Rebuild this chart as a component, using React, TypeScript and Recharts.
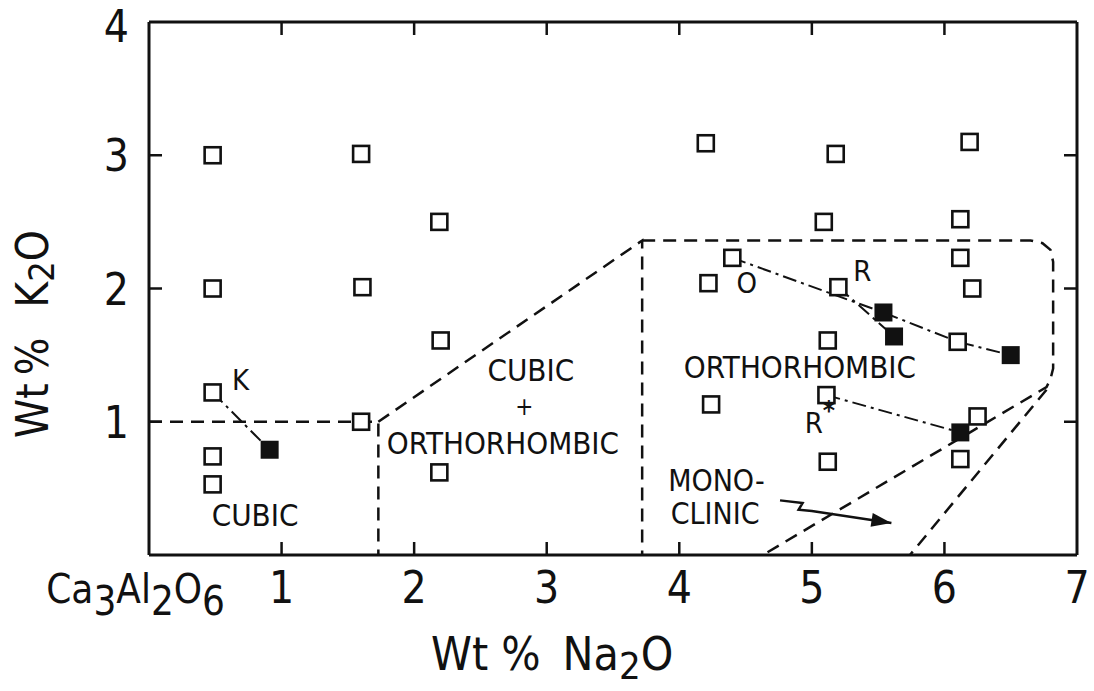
import React from "react";
import { Label, ReferenceLine, Scatter, ScatterChart, XAxis, YAxis } from "recharts";

const W = 1094;
const H = 691;
// plot box: left 149, right 1077, top 22, bottom 555 (axes take 1px each)
const MARGIN = { top: 22, right: 17, left: 148, bottom: 135 };
const PLOT_TOP = 22;
const PLOT_RIGHT = W - 17;
const FONT = '"DejaVu Sans Condensed", "Liberation Sans Narrow", "DejaVu Sans", sans-serif';
const INK = "#111";
const TICK = 13;

const xTicks = [0, 1, 2, 3, 4, 5, 6, 7];
const yTicks = [0, 1, 2, 3, 4];

// open squares (Wt% Na2O, Wt% K2O)
const openPoints = [
  { x: 0.48, y: 3.0 }, { x: 0.48, y: 2.0 }, { x: 0.48, y: 1.22 }, { x: 0.48, y: 0.74 }, { x: 0.48, y: 0.53 },
  { x: 1.6, y: 3.01 }, { x: 1.61, y: 2.01 }, { x: 1.6, y: 1.0 },
  { x: 2.19, y: 2.5 }, { x: 2.2, y: 1.61 }, { x: 2.19, y: 0.62 },
  { x: 4.2, y: 3.09 }, { x: 4.22, y: 2.04 }, { x: 4.4, y: 2.23 }, { x: 4.24, y: 1.13 },
  { x: 5.09, y: 2.5 }, { x: 5.18, y: 3.01 }, { x: 5.12, y: 1.61 }, { x: 5.2, y: 2.01 }, { x: 5.11, y: 1.2 }, { x: 5.12, y: 0.7 },
  { x: 6.19, y: 3.1 }, { x: 6.12, y: 2.52 }, { x: 6.12, y: 2.23 }, { x: 6.21, y: 2.0 }, { x: 6.1, y: 1.6 }, { x: 6.25, y: 1.04 }, { x: 6.12, y: 0.72 },
];

// filled squares
const filledPoints = [
  { x: 0.91, y: 0.79 }, { x: 5.54, y: 1.82 }, { x: 5.62, y: 1.64 }, { x: 6.5, y: 1.5 }, { x: 6.12, y: 0.92 },
];

// dash-dot tie lines
const tieK = [{ x: 0.48, y: 1.22 }, { x: 0.91, y: 0.79 }];
const tieO = [{ x: 4.4, y: 2.23 }, { x: 5.54, y: 1.82 }, { x: 6.1, y: 1.6 }, { x: 6.5, y: 1.5 }];
const tieR = [{ x: 5.2, y: 2.01 }, { x: 5.62, y: 1.64 }];
const tieRstar = [{ x: 5.11, y: 1.2 }, { x: 6.12, y: 0.92 }];

// dashed phase boundaries
const cubicEdge = [{ x: 0, y: 1.0 }, { x: 1.73, y: 1.0 }, { x: 1.73, y: 0 }];
const mixedEdge = [{ x: 1.73, y: 1.0 }, { x: 3.72, y: 2.36 }, { x: 3.72, y: 0 }];
const orthoEdge = [
  { x: 3.72, y: 2.36 }, { x: 6.65, y: 2.36 }, { x: 6.74, y: 2.34 }, { x: 6.8, y: 2.29 }, { x: 6.82, y: 2.2 },
  { x: 6.82, y: 1.4 }, { x: 6.8, y: 1.32 }, { x: 6.77, y: 1.26 }, { x: 4.63, y: 0 },
];
const monoEdge = [{ x: 6.77, y: 1.24 }, { x: 5.74, y: 0 }];

const arrowPath = [
  { x: 4.76, y: 0.41 }, { x: 4.93, y: 0.39 }, { x: 4.9, y: 0.34 }, { x: 5.0, y: 0.33 }, { x: 5.6, y: 0.24 },
];

const notes = [
  { x: 0.69, y: 1.31, text: "K", size: 29 },
  { x: 0.8, y: 0.3, text: "CUBIC", size: 31 },
  { x: 2.88, y: 1.39, text: "CUBIC", size: 31 },
  { x: 2.83, y: 1.11, text: "+", size: 24 },
  { x: 2.67, y: 0.84, text: "ORTHORHOMBIC", size: 31 },
  { x: 4.91, y: 1.41, text: "ORTHORHOMBIC", size: 31 },
  { x: 4.51, y: 2.04, text: "O", size: 29 },
  { x: 5.38, y: 2.13, text: "R", size: 29 },
  { x: 5.06, y: 0.99, text: "R*", size: 29 },
  { x: 4.28, y: 0.56, text: "MONO-", size: 30 },
  { x: 4.27, y: 0.31, text: "CLINIC", size: 30 },
];

const dashed = { stroke: INK, strokeWidth: 2.5, strokeDasharray: "13 8" };
const dashDot = { stroke: INK, strokeWidth: 2, strokeDasharray: "14 5 3 5" };
const solid = { stroke: INK, strokeWidth: 2.5 };
const noShape = () => <g />;

function BottomTick(props: any) {
  const { x, y, payload } = props;
  const v = payload.value;
  return (
    <g>
      {v > 0 && v < 7 && (
        <>
          <line x1={x} y1={y} x2={x} y2={y - TICK} stroke={INK} strokeWidth={2.5} />
          <line x1={x} y1={PLOT_TOP} x2={x} y2={PLOT_TOP + TICK} stroke={INK} strokeWidth={2.5} />
        </>
      )}
      {v === 0 ? (
        <text x={x + 76} y={y + 48} textAnchor="end" fontFamily={FONT} fontSize={40} fill={INK}>
          Ca<tspan dy={12}>3</tspan>
          <tspan dy={-12}>Al</tspan>
          <tspan dy={12}>2</tspan>
          <tspan dy={-12}>O</tspan>
          <tspan dy={12}>6</tspan>
        </text>
      ) : (
        <text x={x} y={y + 48} textAnchor="middle" fontFamily={FONT} fontSize={44} fill={INK}>
          {v}
        </text>
      )}
    </g>
  );
}

function LeftTick(props: any) {
  const { x, y, payload } = props;
  const v = payload.value;
  return (
    <g>
      {v > 0 && v < 4 && (
        <>
          <line x1={x} y1={y} x2={x + TICK} y2={y} stroke={INK} strokeWidth={2.5} />
          <line x1={PLOT_RIGHT} y1={y} x2={PLOT_RIGHT - TICK} y2={y} stroke={INK} strokeWidth={2.5} />
        </>
      )}
      {v > 0 && (
        <text x={x - 20} y={y + (v === 4 ? 20 : 16)} textAnchor="end" fontFamily={FONT} fontSize={44} fill={INK}>
          {v}
        </text>
      )}
    </g>
  );
}

const openSquare = (p: any) => (
  <rect x={p.cx - 8} y={p.cy - 8} width={16} height={16} fill="#fff" stroke={INK} strokeWidth={2.6} />
);
const filledSquare = (p: any) => <rect x={p.cx - 9} y={p.cy - 9} width={18} height={18} fill={INK} />;

const noteShape = (p: any) => {
  const t: string = p.payload.text;
  const star = t.endsWith("*");
  return (
    <text x={p.cx} y={p.cy} textAnchor="middle" dominantBaseline="central" fontFamily={FONT} fontSize={p.payload.size} fill={INK}>
      {star ? t.slice(0, -1) : t}
      {star && (
        <tspan dy={-12} fontSize={26} fontWeight="bold">
          *
        </tspan>
      )}
    </text>
  );
};

const arrowShape = (p: any) => {
  if (p.index !== arrowPath.length - 1) return <g />;
  return (
    <polygon
      points={`${p.cx},${p.cy} ${p.cx - 20},${p.cy - 7} ${p.cx - 20},${p.cy + 7}`}
      transform={`rotate(9 ${p.cx} ${p.cy})`}
      fill={INK}
    />
  );
};

export default function App() {
  return (
    <div style={{ position: "absolute", left: 0, top: 0, width: W, height: H, background: "#fff" }}>
      <ScatterChart width={W} height={H} margin={MARGIN}>
        <XAxis
          type="number"
          dataKey="x"
          domain={[0, 7]}
          ticks={xTicks}
          interval={0}
          height={1}
          tickSize={0}
          tickMargin={0}
          tickLine={false}
          axisLine={{ stroke: INK, strokeWidth: 3 }}
          tick={BottomTick}
          allowDataOverflow
        >
          <Label
            content={() => (
              <text x={431} y={670} fontFamily={FONT} fontSize={46} fill={INK}>
                Wt %<tspan dx={22}>Na</tspan>
                <tspan dy={9} fontSize={38}>2</tspan>
                <tspan dy={-9}>O</tspan>
              </text>
            )}
          />
        </XAxis>
        <YAxis
          type="number"
          dataKey="y"
          domain={[0, 4]}
          ticks={yTicks}
          interval={0}
          width={1}
          tickSize={0}
          tickMargin={0}
          tickLine={false}
          axisLine={{ stroke: INK, strokeWidth: 3 }}
          tick={LeftTick}
          allowDataOverflow
        >
          <Label
            content={() => (
              <text x={48} y={438} transform="rotate(-90 48 438)" textAnchor="start" fontFamily={FONT} fontSize={44} fill={INK}>
                Wt<tspan dx={8}>%</tspan>
                <tspan dx={30}>K</tspan>
                <tspan dy={6} fontSize={36}>2</tspan>
                <tspan dy={-6}>O</tspan>
              </text>
            )}
          />
        </YAxis>
        <ReferenceLine y={4} {...solid} strokeWidth={3} ifOverflow="visible" />
        <ReferenceLine x={7} {...solid} strokeWidth={3} ifOverflow="visible" />

        <Scatter data={cubicEdge} line={dashed} shape={noShape} isAnimationActive={false} />
        <Scatter data={mixedEdge} line={dashed} shape={noShape} isAnimationActive={false} />
        <Scatter data={orthoEdge} line={dashed} shape={noShape} isAnimationActive={false} />
        <Scatter data={monoEdge} line={dashed} shape={noShape} isAnimationActive={false} />

        <Scatter data={tieK} line={dashDot} shape={noShape} isAnimationActive={false} />
        <Scatter data={tieO} line={dashDot} shape={noShape} isAnimationActive={false} />
        <Scatter data={tieR} line={dashDot} shape={noShape} isAnimationActive={false} />
        <Scatter data={tieRstar} line={dashDot} shape={noShape} isAnimationActive={false} />

        <Scatter data={arrowPath} line={solid} shape={arrowShape} isAnimationActive={false} />

        <Scatter data={openPoints} shape={openSquare} isAnimationActive={false} />
        <Scatter data={filledPoints} shape={filledSquare} isAnimationActive={false} />
        <Scatter data={notes} shape={noteShape} isAnimationActive={false} />
      </ScatterChart>
    </div>
  );
}
